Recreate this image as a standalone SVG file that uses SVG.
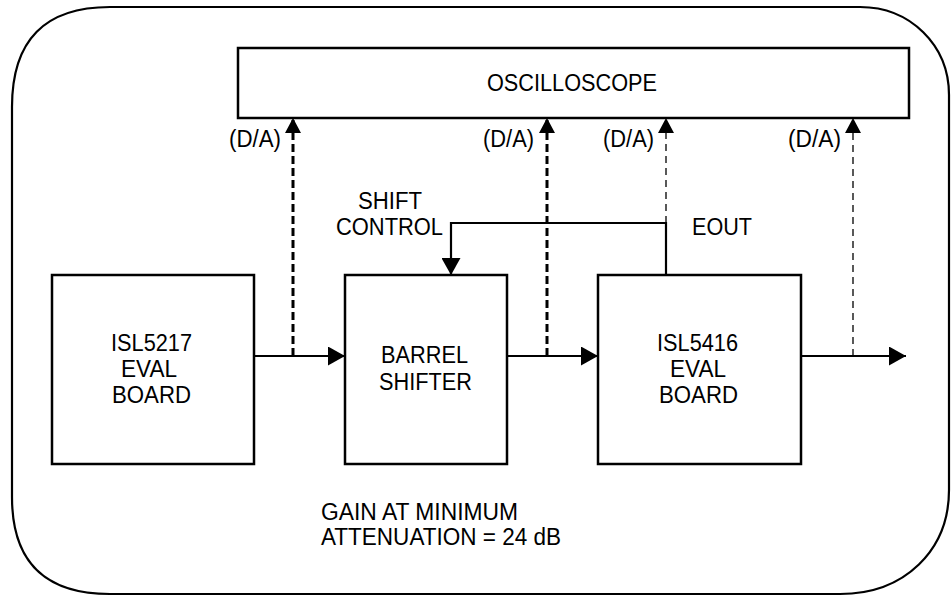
<svg xmlns="http://www.w3.org/2000/svg" width="951" height="598" viewBox="0 0 951 598">
<style>
text{font-family:"Liberation Sans",Arial,sans-serif;font-size:23.5px;fill:#000}
.box{fill:#fff;stroke:#000;stroke-width:2.5}
.w{fill:none;stroke:#000;stroke-width:2.2}
.dk{fill:none;stroke:#000;stroke-width:3;stroke-dasharray:8 4}
.dt{fill:none;stroke:#000;stroke-width:1.3;stroke-dasharray:7 5}
</style>
<defs>
<marker id="arr" viewBox="0 0 17 19" refX="17" refY="9.5" markerWidth="17" markerHeight="19" markerUnits="userSpaceOnUse" orient="auto"><path d="M0,0 L17,9.5 L0,19 Z" fill="#000"/></marker>
<marker id="arrs" viewBox="0 0 15 16" refX="15" refY="8" markerWidth="15" markerHeight="16" markerUnits="userSpaceOnUse" orient="auto"><path d="M0,0 L15,8 L0,16 Z" fill="#000"/></marker>
</defs>
<rect width="951" height="598" fill="#fff"/>
<path id="frame" d="M110,7 L860,7 C910,7 949,45 949,95 L949,490 C949,550 905,594 840,594 L110,594 Q12,594 12,497 L12,107 Q12,7 110,7 Z" fill="none" stroke="#000" stroke-width="2.2"/>
<g id="connectors">
<path class="w" d="M253,356 H345" marker-end="url(#arr)"/>
<path class="w" d="M506,356 H598" marker-end="url(#arr)"/>
<path class="w" d="M800,356 H906" marker-end="url(#arr)"/>
<path class="w" d="M666,275 V223 H451 V275" marker-end="url(#arr)"/>
<path class="dk" d="M293,356 V118" marker-end="url(#arrs)"/>
<path class="dk" d="M547,356 V118" marker-end="url(#arrs)"/>
<path class="dt" d="M666,223 V118" marker-end="url(#arrs)"/>
<path class="dt" d="M853,356 V118" marker-end="url(#arrs)"/>
</g>
<g id="oscilloscope">
<rect class="box" x="238" y="48" width="671" height="70"/>
<text x="487" y="91" textLength="170" lengthAdjust="spacingAndGlyphs">OSCILLOSCOPE</text>
</g>
<g id="isl5217">
<rect class="box" x="52" y="275" width="202" height="189"/>
<text x="111" y="351" textLength="81" lengthAdjust="spacingAndGlyphs">ISL5217</text>
<text x="121" y="377" textLength="56" lengthAdjust="spacingAndGlyphs">EVAL</text>
<text x="112" y="403" textLength="79" lengthAdjust="spacingAndGlyphs">BOARD</text>
</g>
<g id="barrel">
<rect class="box" x="345" y="275" width="162" height="189"/>
<text x="381" y="363" textLength="87" lengthAdjust="spacingAndGlyphs">BARREL</text>
<text x="379" y="390" textLength="93" lengthAdjust="spacingAndGlyphs">SHIFTER</text>
</g>
<g id="isl5416">
<rect class="box" x="598" y="275" width="203" height="189"/>
<text x="657" y="351" textLength="81" lengthAdjust="spacingAndGlyphs">ISL5416</text>
<text x="670" y="377" textLength="56" lengthAdjust="spacingAndGlyphs">EVAL</text>
<text x="659" y="403" textLength="79" lengthAdjust="spacingAndGlyphs">BOARD</text>
</g>
<g id="labels">
<text x="229" y="147" textLength="52" lengthAdjust="spacingAndGlyphs">(D/A)</text>
<text x="483" y="147" textLength="51" lengthAdjust="spacingAndGlyphs">(D/A)</text>
<text x="603" y="147" textLength="51" lengthAdjust="spacingAndGlyphs">(D/A)</text>
<text x="788" y="147" textLength="53" lengthAdjust="spacingAndGlyphs">(D/A)</text>
<text x="358" y="209" textLength="64" lengthAdjust="spacingAndGlyphs">SHIFT</text>
<text x="336" y="235" textLength="107" lengthAdjust="spacingAndGlyphs">CONTROL</text>
<text x="692" y="235" textLength="60" lengthAdjust="spacingAndGlyphs">EOUT</text>
<text x="321" y="520" textLength="197" lengthAdjust="spacingAndGlyphs">GAIN AT MINIMUM</text>
<text x="321" y="545" textLength="240" lengthAdjust="spacingAndGlyphs">ATTENUATION = 24 dB</text>
</g>
</svg>
